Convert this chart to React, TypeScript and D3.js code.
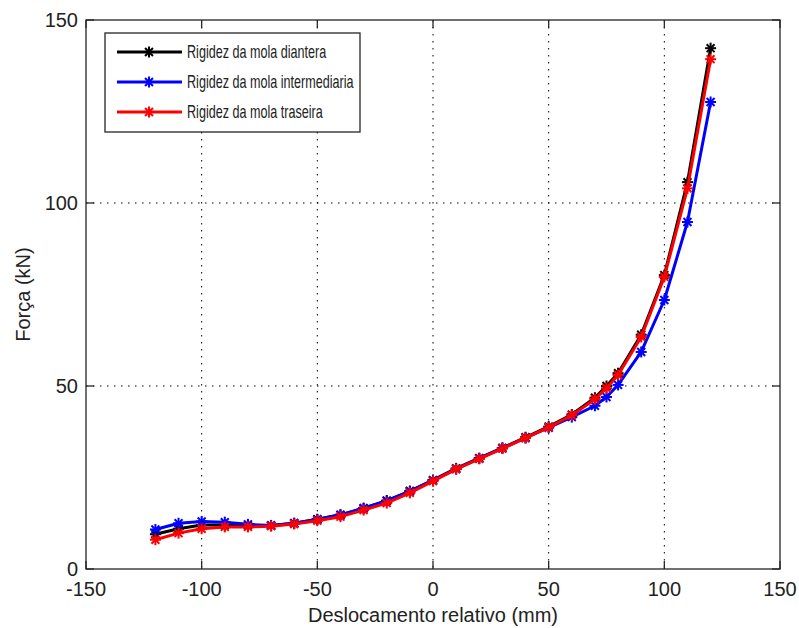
import React from "react";
import * as d3 from "d3";

// Relative displacement (mm)
const displacement = [-120, -110, -100, -90, -80, -70, -60, -50, -40, -30, -20, -10, 0, 10, 20, 30, 40, 50, 60, 70, 75, 80, 90, 100, 110, 120];

// Spring force (kN) for each spring
const frontSpring = [9.5, 11, 12, 12, 11.9, 11.9, 12.5, 13.6, 14.8, 16.6, 18.7, 21.3, 24.3, 27.5, 30.3, 33.1, 36, 38.9, 42.2, 46.8, 50, 53.5, 64, 80.3, 105.7, 142.3];
const middleSpring = [10.8, 12.5, 13, 12.8, 12.2, 11.9, 12.5, 13.5, 14.8, 16.6, 18.6, 21.2, 24.2, 27.3, 30.2, 33, 35.8, 38.6, 41.5, 44.6, 47, 50.3, 59.3, 73.5, 94.8, 127.6];
const rearSpring = [8, 9.8, 11, 11.5, 11.5, 11.7, 12.3, 13.2, 14.3, 16.1, 18, 20.8, 24, 27.3, 30.1, 32.9, 35.8, 38.7, 42, 46.4, 49.4, 53, 63.4, 79.8, 104, 139.3];

const seriesNames = ["Rigidez da mola diantera", "Rigidez da mola intermediaria", "Rigidez da mola traseira"];
const seriesColors = ["#000000", "#0000ff", "#ff0000"];
const seriesValues = [frontSpring, middleSpring, rearSpring];

const xTicks = [-150, -100, -50, 0, 50, 100, 150];
const yTicks = [0, 50, 100, 150];

const W = 799;
const H = 628;
const left = 86, right = 780, top = 20, bottom = 569;
const FONT = "'Liberation Sans', Arial, sans-serif";

function Asterisk({ cx, cy, color }: { cx: number; cy: number; color: string }) {
  const r = 5.5;
  const d = r * 0.72;
  return (
    <g stroke={color} strokeWidth={2}>
      <line x1={cx - r} y1={cy} x2={cx + r} y2={cy} />
      <line x1={cx} y1={cy - r} x2={cx} y2={cy + r} />
      <line x1={cx - d} y1={cy - d} x2={cx + d} y2={cy + d} />
      <line x1={cx - d} y1={cy + d} x2={cx + d} y2={cy - d} />
    </g>
  );
}

export default function App() {
  const x = d3.scaleLinear().domain([-150, 150]).range([left, right]);
  const y = d3.scaleLinear().domain([0, 150]).range([bottom, top]);
  const line = d3.line<[number, number]>().x((p) => x(p[0])).y((p) => y(p[1]));
  const tick = 8;
  const axisColor = "#262626";

  const legendX = 105, legendY = 33, legendW = 255, legendH = 99;

  return (
    <svg width={W} height={H} style={{ position: "absolute", left: 0, top: 0, background: "#fff" }}>
      <rect x={0} y={0} width={W} height={H} fill="#fff" />
      {/* grid */}
      <g stroke="#000" strokeWidth={1} strokeDasharray="1.5 5.5">
        {xTicks.slice(1, -1).map((t) => (
          <line key={"gx" + t} x1={x(t)} x2={x(t)} y1={top} y2={bottom} />
        ))}
        {yTicks.slice(1, -1).map((t) => (
          <line key={"gy" + t} x1={left} x2={right} y1={y(t)} y2={y(t)} />
        ))}
      </g>
      {/* axes box and ticks */}
      <rect x={left} y={top} width={right - left} height={bottom - top} fill="none" stroke={axisColor} strokeWidth={1.3} />
      <g stroke={axisColor} strokeWidth={1.3}>
        {xTicks.map((t) => (
          <g key={"tx" + t}>
            <line x1={x(t)} x2={x(t)} y1={bottom} y2={bottom - tick} />
            <line x1={x(t)} x2={x(t)} y1={top} y2={top + tick} />
          </g>
        ))}
        {yTicks.map((t) => (
          <g key={"ty" + t}>
            <line x1={left} x2={left + tick} y1={y(t)} y2={y(t)} />
            <line x1={right} x2={right - tick} y1={y(t)} y2={y(t)} />
          </g>
        ))}
      </g>
      {/* tick labels */}
      <g fontFamily={FONT} fontSize={20} fill="#222">
        {xTicks.map((t) => (
          <text key={"lx" + t} x={x(t)} y={bottom + 27} textAnchor="middle">{t}</text>
        ))}
        {yTicks.map((t) => (
          <text key={"ly" + t} x={left - 8} y={y(t)} textAnchor="end" dominantBaseline="central">{t}</text>
        ))}
      </g>
      {/* axis titles */}
      <text x={x(0)} y={622} textAnchor="middle" fontFamily={FONT} fontSize={20} fill="#222">Deslocamento relativo (mm)</text>
      <text transform={`translate(23, ${y(75)}) rotate(-90)`} textAnchor="middle" dominantBaseline="central" fontFamily={FONT} fontSize={20} fill="#222">Força (kN)</text>
      {/* series */}
      {seriesValues.map((vals, i) => {
        const pts: [number, number][] = displacement.map((d, k) => [d, vals[k]]);
        return (
          <g key={"s" + i}>
            <path d={line(pts) || ""} fill="none" stroke={seriesColors[i]} strokeWidth={3} strokeLinejoin="round" />
            {pts.map((p, k) => (
              <Asterisk key={k} cx={x(p[0])} cy={y(p[1])} color={seriesColors[i]} />
            ))}
          </g>
        );
      })}
      {/* legend */}
      <rect x={legendX} y={legendY} width={legendW} height={legendH} fill="#fff" stroke={axisColor} strokeWidth={1.3} />
      {seriesNames.map((name, i) => {
        const cy = legendY + 19 + i * 30;
        return (
          <g key={"lg" + i}>
            <line x1={117} x2={182} y1={cy} y2={cy} stroke={seriesColors[i]} strokeWidth={3} />
            <Asterisk cx={149} cy={cy} color={seriesColors[i]} />
            <text transform={`translate(187, ${cy}) scale(0.7, 1)`} dominantBaseline="central" fontFamily={FONT} fontSize={18} fill="#222">{name}</text>
          </g>
        );
      })}
    </svg>
  );
}
